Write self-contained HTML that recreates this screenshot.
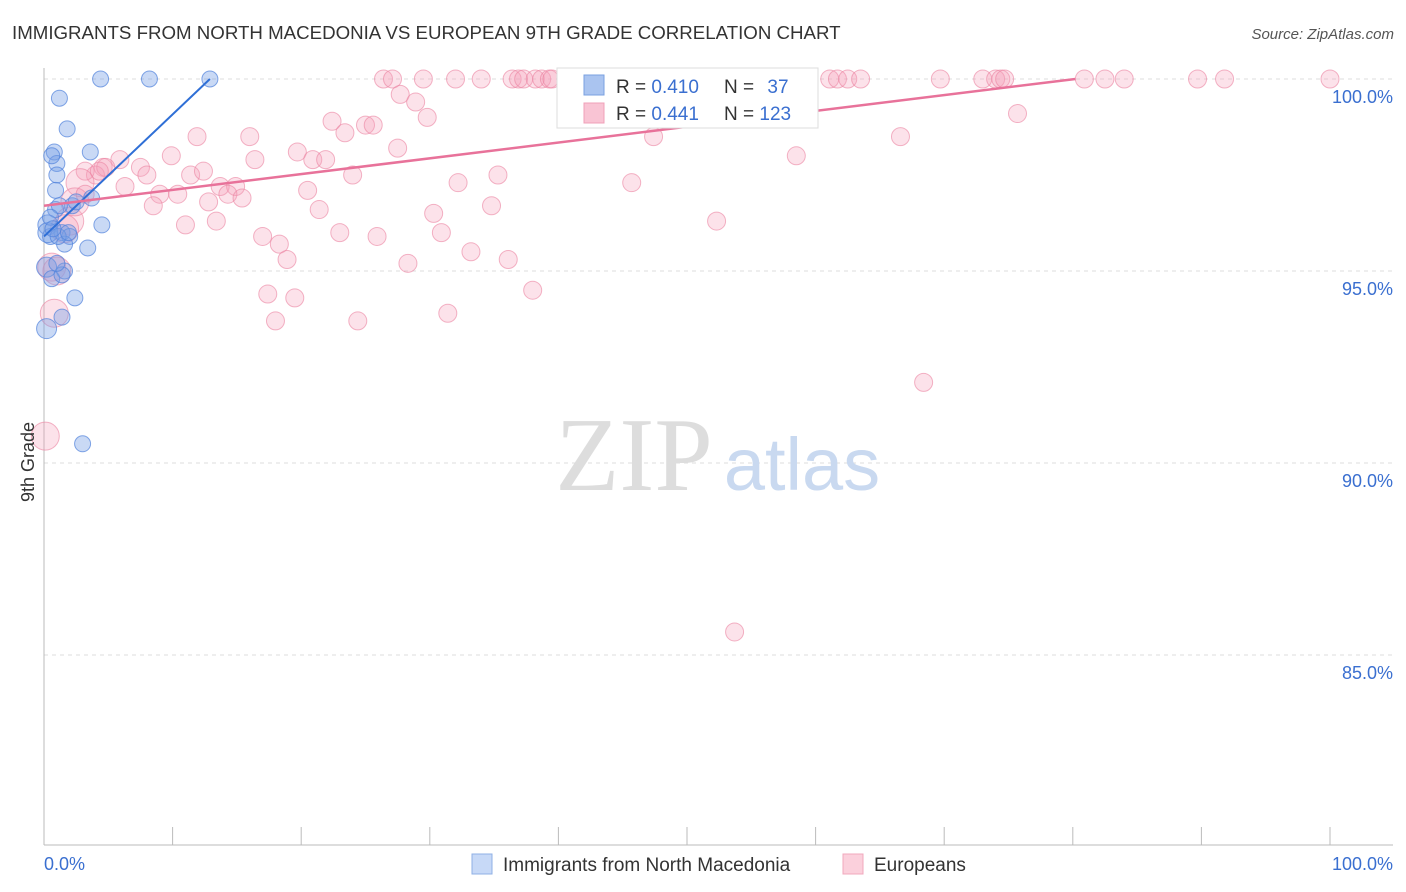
<!DOCTYPE html>
<html><head><meta charset="utf-8"><style>
body{margin:0;background:#fff;font-family:"Liberation Sans",sans-serif;}
#c{position:absolute;left:0;top:0;}
</style></head><body>
<svg id="c" width="1406" height="892">
<text x="12" y="39" font-size="18.7" fill="#333">IMMIGRANTS FROM NORTH MACEDONIA VS EUROPEAN 9TH GRADE CORRELATION CHART</text>
<text x="1394" y="39" font-size="15" fill="#555" text-anchor="end" font-style="italic">Source: ZipAtlas.com</text>
<g id="grid"></g>
<text x="634" y="490" font-size="105" fill="#ddd" font-family="Liberation Serif" text-anchor="middle">ZIP</text>
<text x="802" y="490" font-size="74" fill="#c9d9f0" text-anchor="middle">atlas</text>
<g id="pts"></g>
<text x="34" y="462" font-size="18" fill="#333" transform="rotate(-90 34 462)" text-anchor="middle">9th Grade</text>
<g>
<rect x="557" y="68" width="261" height="60" fill="#fff" stroke="#ddd"/>
<rect x="584" y="75" width="20" height="20" fill="#aac4f0" stroke="#7aa0e0"/>
<rect x="584" y="103" width="20" height="20" fill="#f9c4d4" stroke="#f0a0b8"/>
<text x="616" y="93" font-size="19" fill="#333">R = <tspan fill="#3a6fd0">0.410</tspan></text>
<text x="724" y="93" font-size="19" fill="#333">N = <tspan fill="#3a6fd0" dx="8">37</tspan></text>
<text x="616" y="120" font-size="19" fill="#333">R = <tspan fill="#3a6fd0">0.441</tspan></text>
<text x="724" y="120" font-size="19" fill="#333">N = <tspan fill="#3a6fd0">123</tspan></text>
</g>
<g>
<rect x="472" y="854" width="20" height="20" fill="#c7d9f7" stroke="#8fb0e6"/>
<text x="503" y="871" font-size="19" fill="#333">Immigrants from North Macedonia</text>
<rect x="843" y="854" width="20" height="20" fill="#fbd0dc" stroke="#f0a8bd"/>
<text x="874" y="871" font-size="19" fill="#333">Europeans</text>
</g>
</svg>
<script>
const yTicks=[100,95,90,85];
const yTickLabels=["100.0%","95.0%","90.0%","85.0%"];
const blueX=[4.4,8.2,12.9,1.2,1.8,0.8,3.6,1.0,1.0,0.9,3.7,0.9,2.2,1.2,0.3,0.5,1.4,2.0,1.6,3.4,4.5,0.2,1.6,0.6,1.4,2.4,1.4,0.2,3.0,0.3,1.1,0.6,0.5,1.9,0.7,2.5,1.0];
const blueY=[100,100,100,99.5,98.7,98.1,98.1,97.8,97.5,97.1,96.9,96.6,96.7,96.7,96.2,95.9,96.0,95.9,95.7,95.6,96.2,95.1,95.0,94.8,94.9,94.3,93.8,93.5,90.5,96.0,95.9,98.0,96.4,96.0,96.1,96.8,95.2];
const pinkX=[26.4,27.1,29.5,32.0,34.0,36.4,36.9,37.3,38.2,38.7,39.3,39.5,40.6,41.7,42.8,43.6,44.3,45.0,46.4,47.3,47.7,48.3,48.9,49.8,50.9,51.2,52.0,52.6,53.7,55.1,55.7,56.9,58.8,61.1,61.7,62.5,63.5,69.7,73.0,74.0,74.4,74.7,80.9,82.5,84.0,89.7,91.8,100,
27.7,28.9,29.8,22.4,23.4,25.0,25.6,11.9,16.0,27.5,19.7,5.9,9.9,16.4,20.9,21.9,7.5,4.6,4.0,4.8,3.2,2.8,6.3,11.4,12.4,8.0,13.7,14.9,9.0,10.4,12.8,14.3,15.4,8.5,20.5,24.0,32.2,35.3,45.7,58.5,66.6,47.4,75.7,21.4,30.3,34.8,11.0,13.4,17.0,18.3,18.9,23.0,25.9,30.9,33.2,36.1,28.3,17.4,19.5,38.0,18.0,24.4,31.4,52.3,68.4,53.7,0.6,0.8,0.1,2.0,2.4,1.6,4.3,3.2,1.0];
const pinkY=[100,100,100,100,100,100,100,100,100,100,100,100,100,100,100,100,100,100,100,100,100,100,100,100,100,100,100,100,100,100,100,100,100,100,100,100,100,100,100,100,100,100,100,100,100,100,100,100,
99.6,99.4,99.0,98.9,98.6,98.8,98.8,98.5,98.5,98.2,98.1,97.9,98.0,97.9,97.9,97.9,97.7,97.7,97.5,97.7,97.6,97.3,97.2,97.5,97.6,97.5,97.2,97.2,97.0,97.0,96.8,97.0,96.9,96.7,97.1,97.5,97.3,97.5,97.3,98.0,98.5,98.5,99.1,96.6,96.5,96.7,96.2,96.3,95.9,95.7,95.3,96.0,95.9,96.0,95.5,95.3,95.2,94.4,94.3,94.5,93.7,93.7,93.9,96.3,92.1,85.6,95.1,93.9,90.7,96.3,96.8,96.1,97.6,97.0,95.0];
const blueLine=[[0,95.9],[12.9,100]];
const pinkLine=[[0,96.7],[80.2,100]];
const X=v=>44+v*12.86, Y=v=>79+(100-v)*38.4;
const ns="http://www.w3.org/2000/svg";
function mk(t,a,p){const e=document.createElementNS(ns,t);for(const k in a)e.setAttribute(k,a[k]);p.appendChild(e);return e;}
const g=document.getElementById('grid');
yTicks.forEach((t,i)=>{
 const l=mk('line',{x1:44,x2:1393,y1:Y(t),y2:Y(t),stroke:'#ddd','stroke-dasharray':'4,4'},g);
 
 
 const tx=mk('text',{x:1393,y:Y(t)+24,'font-size':18,fill:'#3a6fd0','text-anchor':'end'},g);
 tx.textContent=yTickLabels[i];
 
 
});
const ax=mk('line',{x1:44,x2:44,y1:68,y2:845,stroke:'#bbb'},g);


const bx=mk('line',{x1:44,x2:1393,y1:845,y2:845,stroke:'#bbb'},g);


for(let i=0;i<=10;i++){const t=mk('line',{x1:X(i*10),x2:X(i*10),y1:827,y2:845,stroke:'#bbb'},g);
 
 }
[["0.0%",44,'start'],["100.0%",1393,'end']].forEach(d=>{const t=mk('text',{x:d[1],y:870,'font-size':18,fill:'#3a6fd0','text-anchor':d[2]},g);t.textContent=d[0];
 
 });
const p=document.getElementById('pts');
pinkX.forEach((x,i)=>{const c=mk('circle',{cx:X(x),cy:Y(pinkY[i]),r:x<3?14:9,fill:'rgba(246,160,185,0.3)',stroke:'rgba(235,130,160,0.6)'},p);
 
 });
blueX.forEach((x,i)=>{const c=mk('circle',{cx:X(x),cy:Y(blueY[i]),r:x<0.5?10:8,fill:'rgba(120,160,230,0.4)',stroke:'rgba(80,130,220,0.7)'},p);
 
 });
const bl=mk('line',{x1:X(blueLine[0][0]),y1:Y(blueLine[0][1]),x2:X(blueLine[1][0]),y2:Y(blueLine[1][1]),stroke:'#2f6fd6','stroke-width':2},p);


const pl=mk('line',{x1:X(pinkLine[0][0]),y1:Y(pinkLine[0][1]),x2:X(pinkLine[1][0]),y2:Y(pinkLine[1][1]),stroke:'#e8729a','stroke-width':2.5},p);


</script>
</body></html>
